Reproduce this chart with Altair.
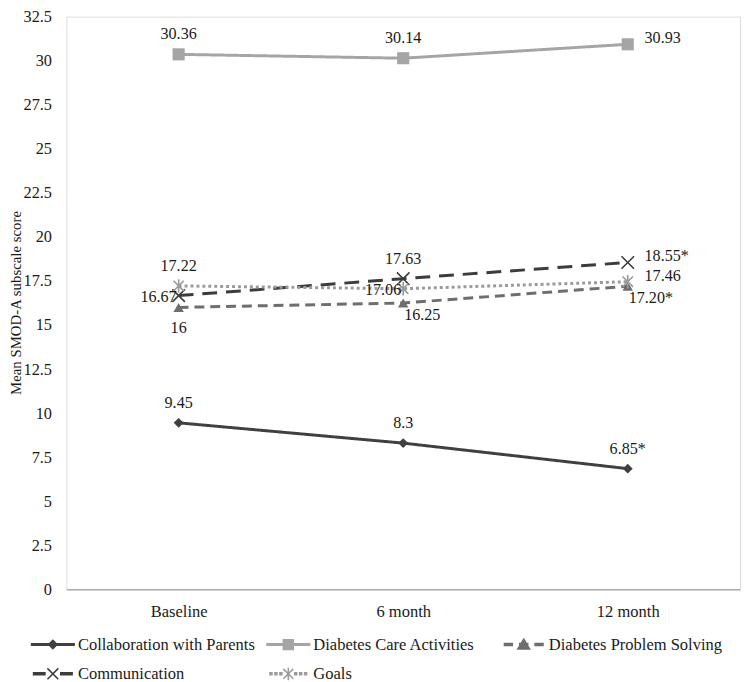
import altair as alt
import pandas as pd

# ---------------- data ----------------
timepoints = ["Baseline", "6 month", "12 month"]
series_names = [
    "Collaboration with Parents",
    "Diabetes Care Activities",
    "Diabetes Problem Solving",
    "Communication",
    "Goals",
]
collab_values = [9.45, 8.3, 6.85]
care_values = [30.36, 30.14, 30.93]
problem_values = [16.0, 16.25, 17.20]
comm_values = [16.67, 17.63, 18.55]
goals_values = [17.22, 17.06, 17.46]

collab_labels = ["9.45", "8.3", "6.85*"]
care_labels = ["30.36", "30.14", "30.93"]
problem_labels = ["16", "16.25", "17.20*"]
comm_labels = ["16.67", "17.63", "18.55*"]
goals_labels = ["17.22", "17.06", "17.46"]

# where each data label sits relative to its point
collab_pos = ["above", "above", "above"]
care_pos = ["above", "above", "right"]
problem_pos = ["below", "belowright", "belowright"]
comm_pos = ["left", "above", "right"]
goals_pos = ["above", "left", "right"]

y_ticks = [0, 2.5, 5, 7.5, 10, 12.5, 15, 17.5, 20, 22.5, 25, 27.5, 30, 32.5]

values = [collab_values, care_values, problem_values, comm_values, goals_values]
labels = [collab_labels, care_labels, problem_labels, comm_labels, goals_labels]
positions = [collab_pos, care_pos, problem_pos, comm_pos, goals_pos]

rows = []
for s, vals, labs, poss in zip(series_names, values, labels, positions):
    for t, v, l, p in zip(timepoints, vals, labs, poss):
        rows.append({"series": s, "time": t, "value": v, "label": l, "pos": p})
df = pd.DataFrame(rows)

# ---------------- styles ----------------
FONT = "Liberation Serif"
TEXT = "#1a1a1a"
colors = ["#404040", "#a5a5a5", "#6e6e6e", "#3c3c3c", "#9a9a9a"]
dashes = [[1, 0], [1, 0], [10, 6], [15, 9], [3, 3]]
marker_shapes = [
    "diamond",
    "square",
    "triangle-up",
    "M-1,-1L1,1M-1,1L1,-1",
    "M-1,-1L1,1M-1,1L1,-1M0,-1.3L0,1.3",
]
marker_sizes = [100, 150, 110, 160, 110]
marker_filled = [True, True, True, False, False]

# legend glyphs: line pieces + marker (unit = 5px at size 100)
legend_paths = [
    "M-4.3,-0.15H4.3V0.15H-4.3Z M0,-0.85L0.85,0L0,0.85L-0.85,0Z",
    "M-4.3,-0.15H4.3V0.15H-4.3Z M-1,-1H1V1H-1Z",
    "M-3.9,-0.2H-2.3V0.2H-3.9Z M2.3,-0.2H3.9V0.2H2.3Z M-0.8,-0.2H0.8V0.2H-0.8Z M0,-1.1L1.2,0.9H-1.2Z",
    "M-3.9,-0.2H-1.6V0.2H-3.9Z M1.6,-0.2H3.9V0.2H1.6Z M-1.1,-1.1L1.1,1.1M-1.1,1.1L1.1,-1.1",
    "M-3.7,-0.2H-3.3V0.2H-3.7Z M-2.7,-0.2H-2.3V0.2H-2.7Z M-1.7,-0.2H-1.3V0.2H-1.7Z "
    "M1.3,-0.2H1.7V0.2H1.3Z M2.3,-0.2H2.7V0.2H2.3Z M3.3,-0.2H3.7V0.2H3.3Z "
    "M-1,-1L1,1M-1,1L1,-1M0,-1.3L0,1.3",
]

placements = {
    "above": dict(align="center", dx=0, dy=-20),
    "below": dict(align="center", dx=0, dy=21),
    "left": dict(align="right", dx=-2, dy=1),
    "right": dict(align="left", dx=17, dy=-6),
    "belowright": dict(align="left", dx=1, dy=12),
}

x_enc = alt.X(
    "time:N",
    sort=timepoints,
    scale=alt.Scale(domain=timepoints, type="point", padding=0.5),
    axis=alt.Axis(
        title=None,
        labelAngle=0,
        ticks=False,
        domain=True,
        domainColor="#8c8c8c",
        domainWidth=1,
        labelPadding=14,
        labelFont=FONT,
        labelFontSize=16.7,
        labelColor=TEXT,
    ),
)
y_enc = alt.Y(
    "value:Q",
    scale=alt.Scale(domain=[0, 32.5], nice=False, zero=True),
    axis=alt.Axis(
        title="Mean SMOD-A subscale score",
        values=y_ticks,
        labelExpr="format(datum.value, '~g')",
        grid=False,
        domain=False,
        ticks=False,
        labelPadding=15,
        labelFont=FONT,
        labelFontSize=16.5,
        labelColor=TEXT,
        titleFont=FONT,
        titleFontSize=15,
        titleFontWeight="normal",
        titleColor=TEXT,
        titleAngle=-90,
        titleX=-51,
        titleY=289,
        titleAlign="center",
        titleBaseline="middle",
    ),
)

base = alt.Chart(df)
layers = []

# lines
for s, c, d in zip(series_names, colors, dashes):
    layers.append(
        base.transform_filter(alt.datum.series == s)
        .mark_line(color=c, strokeWidth=3, strokeDash=d)
        .encode(x=x_enc, y=y_enc)
    )

# markers
for s, c, shp, sz, fl in zip(series_names, colors, marker_shapes, marker_sizes, marker_filled):
    layers.append(
        base.transform_filter(alt.datum.series == s)
        .mark_point(shape=shp, size=sz, filled=fl, color=c, strokeWidth=1.6, opacity=1)
        .encode(x=x_enc, y=y_enc)
    )

# data labels
for name, p in placements.items():
    layers.append(
        base.transform_filter(alt.datum.pos == name)
        .mark_text(font=FONT, fontSize=16.3, color=TEXT, baseline="middle", **p)
        .encode(x=x_enc, y=y_enc, text="label:N")
    )

# legend carrier (no visible marks)
leg = alt.Legend(
    title=None,
    orient="none",
    legendX=-39,
    legendY=626,
    direction="horizontal",
    columns=3,
    gridAlign="all",
    columnPadding=8,
    rowPadding=10,
    labelFont=FONT,
    labelFontSize=16.7,
    labelColor=TEXT,
    labelLimit=0,
    labelOffset=17,
    symbolOffset=17,
    symbolSize=100,
    symbolStrokeWidth=1.5,
    symbolOpacity=1,
)
legend_df = pd.DataFrame({"series": series_names})
legend_layer = (
    alt.Chart(legend_df)
    .transform_filter("false")
    .mark_point(filled=True, size=100, strokeWidth=1.5, opacity=1)
    .encode(
        fill=alt.Fill("series:N", scale=alt.Scale(domain=series_names, range=colors), legend=leg),
        stroke=alt.Stroke("series:N", scale=alt.Scale(domain=series_names, range=colors), legend=leg),
        shape=alt.Shape("series:N", scale=alt.Scale(domain=series_names, range=legend_paths), legend=leg),
    )
)
layers.append(legend_layer)

chart = (
    alt.layer(*layers)
    .properties(
        width=681,
        height=579,
        autosize=alt.AutoSizeParams(type="none"),
        padding={"left": 59, "top": 5, "right": 2, "bottom": 98},
    )
    .configure_view(stroke=None)
    .configure(background="white")
)

chart.save("out.html", embed_options={"renderer": "svg", "actions": False})
